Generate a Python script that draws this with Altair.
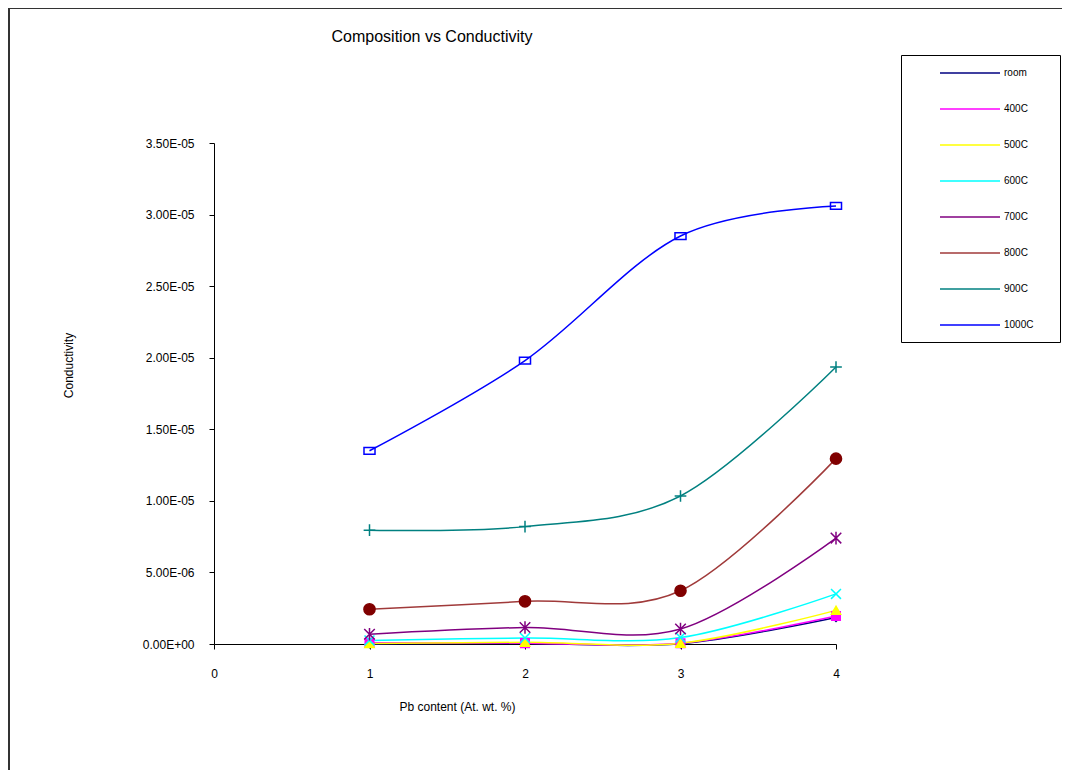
import altair as alt
import pandas as pd

# ---- data ----
series = ["room", "400C", "500C", "600C", "700C", "800C", "900C", "1000C"]
pb_content = [1, 2, 3, 4]
room = [0.02e-6, 0.03e-6, 0.02e-6, 1.85e-6]
c400 = [0.08e-6, 0.06e-6, 0.05e-6, 1.95e-6]
c500 = [0.03e-6, 0.12e-6, 0.06e-6, 2.35e-6]
c600 = [0.25e-6, 0.42e-6, 0.45e-6, 3.50e-6]
c700 = [0.68e-6, 1.15e-6, 1.05e-6, 7.40e-6]
c800 = [2.43e-6, 2.98e-6, 3.72e-6, 12.95e-6]
c900 = [7.95e-6, 8.20e-6, 10.34e-6, 19.35e-6]
c1000 = [13.50e-6, 19.80e-6, 28.50e-6, 30.60e-6]
values = [room, c400, c500, c600, c700, c800, c900, c1000]
x_ticks = [0, 1, 2, 3, 4]
y_ticks = [0, 5e-6, 1e-5, 1.5e-5, 2e-5, 2.5e-5, 3e-5, 3.5e-5]

# ---- styles ----
line_colors = ["#000080", "#FF00FF", "#FFFF00", "#00FFFF", "#800080", "#A03A3A", "#008080", "#0000FF"]
marker_fill = ["#000080", "#FF00FF", "#FFFF00", "transparent", "transparent", "#800000", "transparent", "transparent"]
marker_stroke = ["#000080", "#FF00FF", "#FFFF00", "#00FFFF", "#800080", "#800000", "#008080", "#0000FF"]
marker_shapes = [
    "diamond",
    "square",
    "triangle-up",
    "M-1,-1L1,1M-1,1L1,-1",
    "M-1,-1L1,1M-1,1L1,-1M0,-1.2V1.2",
    "circle",
    "M-1,0H1M0,-1V1",
    "M-0.9,-0.55H0.9V0.55H-0.9Z",
]
marker_sizes = [60, 150, 200, 300, 380, 300, 400, 55]

rows = []
for s, vals in zip(series, values):
    for x, v in zip(pb_content, vals):
        rows.append({"series": s, "pb": x, "cond": v})
df = pd.DataFrame(rows)

FONT = "Liberation Sans"
W, H = 622, 501
BLANK = "\u2800"

x_enc = alt.X(
    "pb:Q",
    scale=alt.Scale(domain=[0, 4], nice=False),
    axis=alt.Axis(
        values=x_ticks, format="d", grid=False, tickSize=5, labelPadding=19,
        labelFlush=False, labelFontSize=12, labelFont=FONT, labelColor="black",
        domainColor="black", tickColor="black",
        title="Pb content (At. wt. %)", titleX=243, titleY=62,
        titleAlign="center", titleBaseline="middle", titleFont=FONT,
        titleFontSize=12, titleFontWeight="normal", titleColor="black",
    ),
)
y_enc = alt.Y(
    "cond:Q",
    scale=alt.Scale(domain=[0, 3.5e-5], nice=False),
    axis=alt.Axis(
        values=y_ticks,
        labelExpr="replace(replace(format(datum.value, '.2e'), 'e-', 'E-0'), 'e+', 'E+0')",
        grid=False, tickSize=5, labelPadding=15, labelFontSize=12, labelFont=FONT,
        labelColor="black", domainColor="black", tickColor="black",
        title="Conductivity", titleX=-146, titleY=222, titleAngle=270,
        titleAlign="center", titleBaseline="middle", titleFont=FONT,
        titleFontSize=12, titleFontWeight="normal", titleColor="black",
    ),
)

frame = alt.Chart(pd.DataFrame({"a": [0]})).mark_rect(
    fill="transparent", stroke="#333333", strokeWidth=2
).encode(
    x=alt.value(-205), x2=alt.value(W + 400),
    y=alt.value(-135), y2=alt.value(H + 300),
)

lines = alt.Chart(df).mark_line(interpolate="cardinal", strokeWidth=1.5).encode(
    x=x_enc,
    y=y_enc,
    color=alt.Color(
        "series:N",
        sort=series,
        scale=alt.Scale(domain=series, range=line_colors),
        title=None,
        legend=alt.Legend(
            orient="none", legendX=687, legendY=-88, direction="vertical",
            padding=12, strokeColor="black", fillColor="white",
            symbolType="M-6,0H6", symbolSize=100, symbolStrokeWidth=1.5,
            symbolOffset=51, labelOffset=28, labelFontSize=10, labelFont=FONT,
            labelColor="black", rowPadding=25,
            labelExpr="datum.label + '" + BLANK * 2 + "'",
        ),
    ),
)

points = alt.Chart(df).mark_point(filled=True, strokeWidth=1.5, opacity=1).encode(
    x=x_enc,
    y=y_enc,
    shape=alt.Shape("series:N", scale=alt.Scale(domain=series, range=marker_shapes), legend=None),
    size=alt.Size("series:N", scale=alt.Scale(domain=series, range=marker_sizes), legend=None),
    fill=alt.Fill("series:N", scale=alt.Scale(domain=series, range=marker_fill), legend=None),
    stroke=alt.Stroke("series:N", scale=alt.Scale(domain=series, range=marker_stroke), legend=None),
)

chart = alt.layer(frame, lines, points).properties(
    width=W,
    height=H,
    title=alt.TitleParams(
        "Composition vs Conductivity", anchor="middle", frame="group", dx=-93,
        offset=0, dy=54, baseline="bottom", font=FONT, fontSize=16, fontWeight="normal",
        color="black",
    ),
    autosize=alt.AutoSizeParams(type="none"),
    padding={"left": 206, "top": 135, "right": 226, "bottom": 126},
).configure_view(stroke="transparent").resolve_scale(
    shape="independent", size="independent", fill="independent", stroke="independent"
)

chart.save("out.html", embed_options={"renderer": "svg", "actions": False})
